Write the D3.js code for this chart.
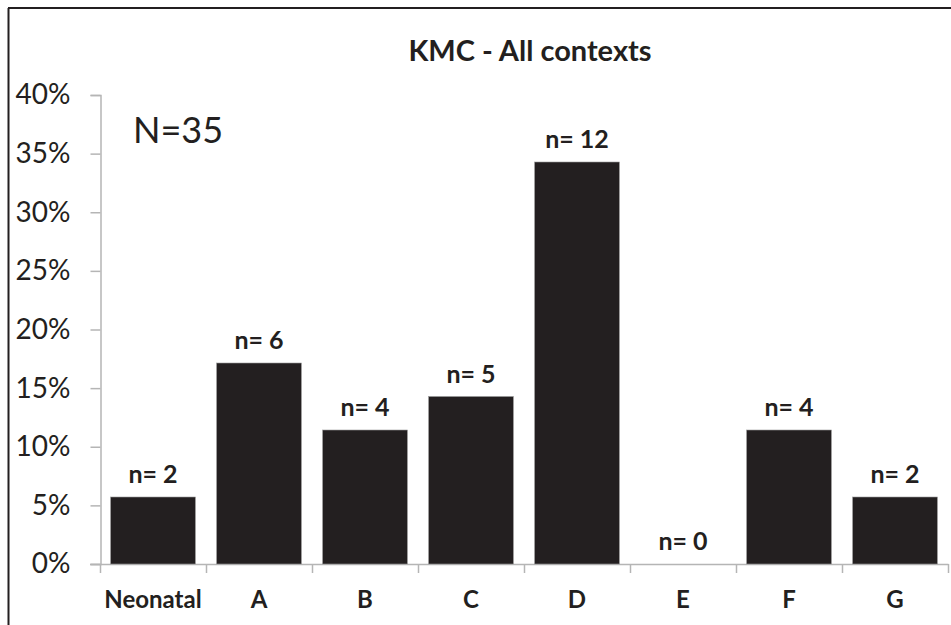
<!DOCTYPE html>
<html>
<head>
<meta charset="utf-8">
<script src="https://cdn.jsdelivr.net/npm/d3@7"></script>
<style>
  html, body { margin: 0; padding: 0; background: #fff; }
  svg { display: block; font-family: Lato, "Open Sans", sans-serif; }
</style>
</head>
<body>
<svg id="chart" width="951" height="625"></svg>
<script>
// KMC distribution across contexts
const categories = ["Neonatal", "A", "B", "C", "D", "E", "F", "G"];
const counts = [2, 6, 4, 5, 12, 0, 4, 2];
const totalN = 35;
const yTicks = [0, 0.05, 0.10, 0.15, 0.20, 0.25, 0.30, 0.35, 0.40];
const titleText = "KMC - All contexts";

const ink = "#231f20";
const axisGrey = "#b5b5b5";

const svg = d3.select("#chart");

// frame (top and left edges)
svg.append("line").attr("x1", 8).attr("x2", 951).attr("y1", 8).attr("y2", 8)
  .attr("stroke", ink).attr("stroke-width", 2);
svg.append("line").attr("x1", 8.5).attr("x2", 8.5).attr("y1", 8).attr("y2", 625)
  .attr("stroke", ink).attr("stroke-width", 2);

const x = d3.scaleBand().domain(categories).range([100, 948])
  .paddingInner(0.2).paddingOuter(0.1);
const y = d3.scaleLinear().domain([0, 0.40]).range([564, 95]);

// y axis
const yAxis = d3.axisLeft(y).tickValues(yTicks).tickSize(10).tickPadding(20)
  .tickFormat(d => Math.round(d * 100) + "%");
const gy = svg.append("g").attr("transform", "translate(100.5,0)").call(yAxis);
gy.select(".domain").attr("stroke", axisGrey).attr("stroke-width", 1.5);
gy.selectAll(".tick line").attr("stroke", axisGrey).attr("stroke-width", 1.5);
gy.selectAll(".tick text").attr("fill", ink).attr("font-size", 28)
  .attr("font-family", "Lato, sans-serif");

// x axis: baseline with ticks at category boundaries
const gx = svg.append("g");
gx.append("line").attr("x1", 90).attr("x2", x.range()[1] + 0.5)
  .attr("y1", y(0) + 0.5).attr("y2", y(0) + 0.5)
  .attr("stroke", axisGrey).attr("stroke-width", 1.5);
const bounds = categories.map(c => x(c) - x.step() * x.paddingOuter());
bounds.push(x.range()[1]);
gx.selectAll("line.tk").data(bounds).join("line").attr("class", "tk")
  .attr("x1", d => d + 0.5).attr("x2", d => d + 0.5)
  .attr("y1", y(0)).attr("y2", y(0) + 9)
  .attr("stroke", axisGrey).attr("stroke-width", 1.5);
gx.selectAll("text").data(categories).join("text")
  .attr("x", d => x(d) + x.bandwidth() / 2)
  .attr("y", 608)
  .attr("text-anchor", "middle")
  .attr("font-weight", 700).attr("font-size", 24).attr("fill", ink)
  .text(d => d);

// bars
const rows = categories.map((c, i) => ({ c, n: counts[i], p: counts[i] / totalN }));
svg.append("g").selectAll("rect").data(rows).join("rect")
  .attr("x", d => x(d.c))
  .attr("y", d => y(d.p))
  .attr("width", x.bandwidth())
  .attr("height", d => y(0) - y(d.p))
  .attr("fill", ink)
  .attr("stroke", "#9a9a9a").attr("stroke-width", 0.6);

// value labels
svg.append("g").selectAll("text").data(rows).join("text")
  .attr("x", d => x(d.c) + x.bandwidth() / 2)
  .attr("y", d => y(d.p) - 14)
  .attr("text-anchor", "middle")
  .attr("font-weight", 700).attr("font-size", 25).attr("fill", ink)
  .text(d => "n= " + d.n);

// title
svg.append("text").attr("x", 530).attr("y", 61).attr("text-anchor", "middle")
  .attr("font-weight", 700).attr("font-size", 29).attr("fill", ink)
  .text(titleText);

// sample size annotation
svg.append("text").attr("x", 133).attr("y", 143)
  .attr("font-size", 36).attr("fill", ink)
  .text("N=" + totalN);
</script>
</body>
</html>
